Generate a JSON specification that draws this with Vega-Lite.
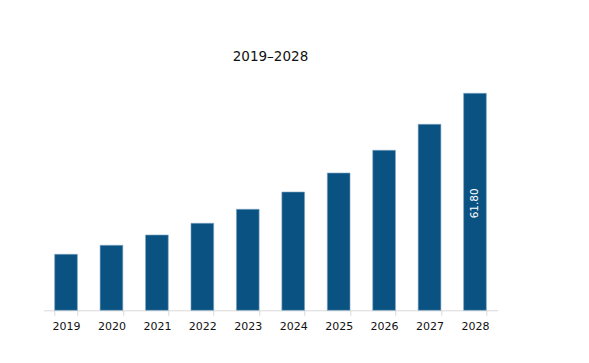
{
  "$schema": "https://vega.github.io/schema/vega-lite/v6.json",
  "autosize": {"type": "none"},
  "padding": {"left": 43.3, "top": 93.3, "right": 91.3, "bottom": 52.7},
  "width": 454.4,
  "height": 217,
  "background": "white",
  "title": {
    "text": "2019\u20132028",
    "font": "DejaVu Sans",
    "fontSize": 13.5,
    "fontWeight": "normal",
    "color": "#111111",
    "anchor": "middle",
    "offset": 16,
    "baseline": "bottom"
  },
  "data": {
    "values": [
      {"year": "2019", "value": 15.95, "label": ""},
      {"year": "2020", "value": 18.51, "label": ""},
      {"year": "2021", "value": 21.45, "label": ""},
      {"year": "2022", "value": 24.78, "label": ""},
      {"year": "2023", "value": 28.77, "label": ""},
      {"year": "2024", "value": 33.69, "label": ""},
      {"year": "2025", "value": 39.10, "label": ""},
      {"year": "2026", "value": 45.57, "label": ""},
      {"year": "2027", "value": 52.97, "label": ""},
      {"year": "2028", "value": 61.80, "label": "61.80"}
    ]
  },
  "encoding": {
    "x": {
      "field": "year",
      "type": "ordinal",
      "scale": {"paddingInner": 0.5, "paddingOuter": 0.25},
      "axis": {
        "title": null,
        "labelAngle": 0,
        "labelFont": "DejaVu Sans",
        "labelFontSize": 11,
        "labelColor": "#111111",
        "labelPadding": 5,
        "domainColor": "#d9d9d9",
        "tickColor": "#d9d9d9",
        "tickSize": 5,
        "tickBand": "extent",
        "grid": false
      }
    },
    "y": {
      "field": "value",
      "type": "quantitative",
      "scale": {"domain": [0, 61.8], "nice": false},
      "axis": null
    }
  },
  "layer": [
    {
      "mark": {"type": "bar", "color": "#0a5282", "stroke": "#7fa6c2", "strokeWidth": 0.6}
    },
    {
      "mark": {
        "type": "text",
        "angle": -90,
        "align": "right",
        "baseline": "middle",
        "dx": -95,
        "font": "DejaVu Sans",
        "fontSize": 10.5,
        "color": "white"
      },
      "encoding": {"text": {"field": "label"}}
    }
  ],
  "config": {"view": {"stroke": null}}
}
